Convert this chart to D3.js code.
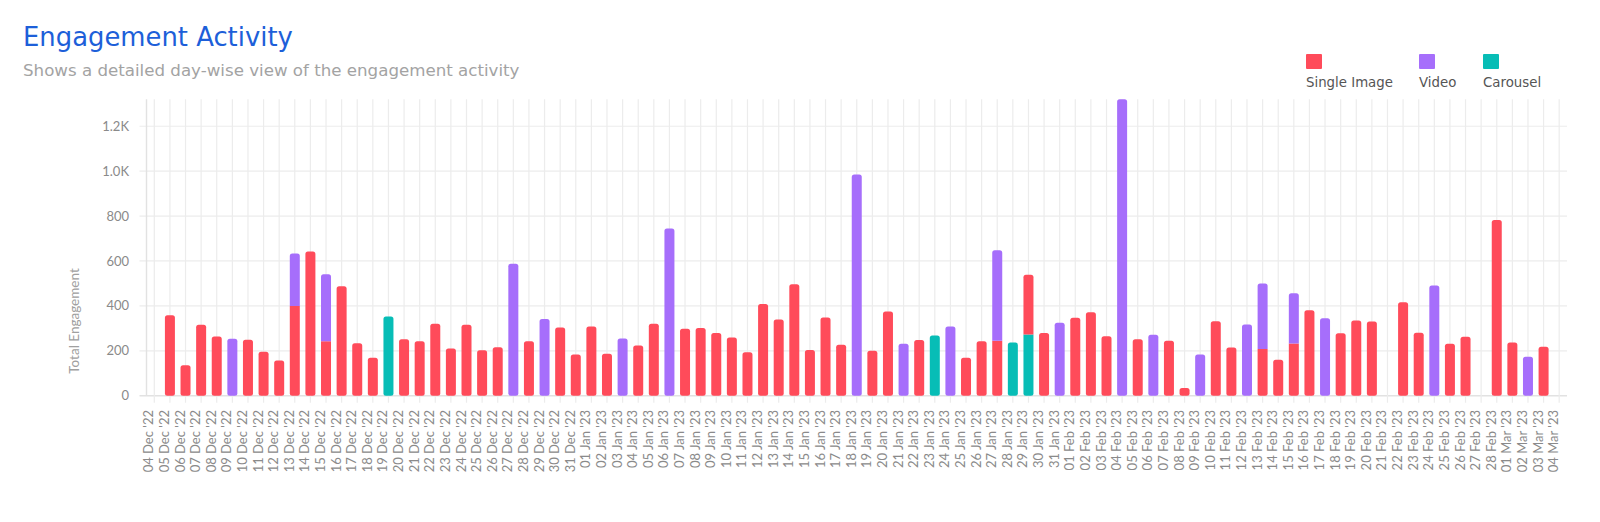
<!DOCTYPE html>
<html><head><meta charset="utf-8">
<script src="https://cdn.jsdelivr.net/npm/d3@7"></script>
<style>
html,body{margin:0;padding:0;background:#fff;}
svg{display:block;font-family:Lato,"Open Sans",sans-serif;}
</style></head>
<body><svg id="chart" width="1600" height="522"></svg>
<script>
const dates = ["04 Dec '22","05 Dec '22","06 Dec '22","07 Dec '22","08 Dec '22","09 Dec '22","10 Dec '22","11 Dec '22","12 Dec '22","13 Dec '22","14 Dec '22","15 Dec '22","16 Dec '22","17 Dec '22","18 Dec '22","19 Dec '22","20 Dec '22","21 Dec '22","22 Dec '22","23 Dec '22","24 Dec '22","25 Dec '22","26 Dec '22","27 Dec '22","28 Dec '22","29 Dec '22","30 Dec '22","31 Dec '22",
"01 Jan '23","02 Jan '23","03 Jan '23","04 Jan '23","05 Jan '23","06 Jan '23","07 Jan '23","08 Jan '23","09 Jan '23","10 Jan '23","11 Jan '23","12 Jan '23","13 Jan '23","14 Jan '23","15 Jan '23","16 Jan '23","17 Jan '23","18 Jan '23","19 Jan '23","20 Jan '23","21 Jan '23","22 Jan '23","23 Jan '23","24 Jan '23","25 Jan '23","26 Jan '23","27 Jan '23","28 Jan '23","29 Jan '23","30 Jan '23","31 Jan '23",
"01 Feb '23","02 Feb '23","03 Feb '23","04 Feb '23","05 Feb '23","06 Feb '23","07 Feb '23","08 Feb '23","09 Feb '23","10 Feb '23","11 Feb '23","12 Feb '23","13 Feb '23","14 Feb '23","15 Feb '23","16 Feb '23","17 Feb '23","18 Feb '23","19 Feb '23","20 Feb '23","21 Feb '23","22 Feb '23","23 Feb '23","24 Feb '23","25 Feb '23","26 Feb '23","27 Feb '23","28 Feb '23",
"01 Mar '23","02 Mar '23","03 Mar '23","04 Mar '23"];

const singleImage = [0,358,136,316,264,0,249,196,157,399,642,243,487,234,169,0,251,243,320,210,316,202,216,0,242,0,304,184,
308,187,0,224,320,0,298,301,279,259,193,408,339,496,203,348,227,0,200,375,0,248,0,0,169,243,245,0,266,279,0,
347,372,265,0,251,0,245,34,0,332,215,0,208,160,233,381,0,278,335,330,0,416,280,0,231,262,0,782,
237,0,218,0];

const video = [0,0,0,0,0,254,0,0,0,234,0,298,0,0,0,0,0,0,0,0,0,0,0,588,0,342,0,0,
0,0,255,0,0,745,0,0,0,0,0,0,0,0,0,0,0,985,0,0,231,0,0,308,0,0,403,0,0,0,325,
0,0,0,1320,0,271,0,0,184,0,0,317,292,0,223,0,345,0,0,0,0,0,0,491,0,0,0,0,
0,173,0,0];

const carousel = [0,0,0,0,0,0,0,0,0,0,0,0,0,0,0,353,0,0,0,0,0,0,0,0,0,0,0,0,
0,0,0,0,0,0,0,0,0,0,0,0,0,0,0,0,0,0,0,0,0,0,268,0,0,0,0,237,273,0,0,
0,0,0,0,0,0,0,0,0,0,0,0,0,0,0,0,0,0,0,0,0,0,0,0,0,0,0,0,
0,0,0,0];

const yTicks = [0,200,400,600,800,1000,1200];
const yTickLabels = ["0","200","400","600","800","1.0K","1.2K"];
const seriesNames = ["Single Image","Video","Carousel"];
const seriesColors = ["#FF4B5A","#A66EFB","#07BDB6"];
// stacking order bottom -> top
const stackOrder = ["Carousel","Single Image","Video"];

const svg = d3.select("#chart");
const L = 146.5, R = 1567, T = 99.3, B = 395.7;

const x = d3.scalePoint().domain(dates).range([L, R]).padding(0.5);
const yMax = d3.max(dates.map((d,i)=>singleImage[i]+video[i]+carousel[i]));
const y = d3.scaleLinear().domain([0, yMax]).range([B, T]);

const grid = svg.append("g");
grid.selectAll("line.h").data(yTicks).join("line")
  .attr("x1", L-7).attr("x2", R).attr("y1", d=>y(d)).attr("y2", d=>y(d))
  .attr("stroke", d=> d===0 ? "#e2e2e2" : "#ececec").attr("stroke-width", d=> d===0?1.6:1.2);
grid.selectAll("line.v").data(dates).join("line")
  .attr("x1", d=>x(d)).attr("x2", d=>x(d)).attr("y1", T).attr("y2", B+7)
  .attr("stroke", "#ececec").attr("stroke-width", 1.2);
grid.append("line").attr("x1", L).attr("x2", L).attr("y1", T).attr("y2", B)
  .attr("stroke", "#e2e2e2").attr("stroke-width", 1.4);

svg.append("g").selectAll("text").data(yTicks).join("text")
  .attr("x", 129).attr("y", d=>y(d)).attr("dy","0.35em").attr("text-anchor","end")
  .attr("font-size", 13).attr("fill", "#8a8a8a").text((d,i)=>yTickLabels[i]);

svg.append("text").attr("transform","translate(79,321) rotate(-90)")
  .attr("text-anchor","middle").attr("font-size",13.5).attr("fill","#a0a0a0").text("Total Engagement");

svg.append("g").selectAll("text").data(dates).join("text")
  .attr("transform", d=>`translate(${x(d)-1},410) rotate(-90)`)
  .attr("text-anchor","end").attr("font-size",13).attr("fill","#8a8a8a").text(d=>d);

const seriesData = {"Single Image": singleImage, "Video": video, "Carousel": carousel};
const colorOf = n => seriesColors[seriesNames.indexOf(n)];
const bw = 10, r = 2.5;
function segPath(cx, yb, yt, roundTop, roundBot){
  const x0 = cx - bw/2, x1 = cx + bw/2;
  const rt = roundTop ? Math.min(r, (yb-yt)/2) : 0;
  const rb = roundBot ? Math.min(r, (yb-yt)/2) : 0;
  return `M${x0},${yt+rt}` + (rt?`Q${x0},${yt} ${x0+rt},${yt}`:"") +
    `L${x1-rt},${yt}` + (rt?`Q${x1},${yt} ${x1},${yt+rt}`:"") +
    `L${x1},${yb-rb}` + (rb?`Q${x1},${yb} ${x1-rb},${yb}`:"") +
    `L${x0+rb},${yb}` + (rb?`Q${x0},${yb} ${x0},${yb-rb}`:"") + "Z";
}
const segs = [];
dates.forEach((d,i)=>{
  const parts = stackOrder.map(n=>({name:n, v:seriesData[n][i]})).filter(p=>p.v>0);
  let acc = 0;
  parts.forEach((p,k)=>{
    segs.push({date:d, name:p.name, y0:acc, y1:acc+p.v, top:k===parts.length-1, bot:k===0});
    acc += p.v;
  });
});
svg.append("g").selectAll("path").data(segs).join("path")
  .attr("d", s=>segPath(x(s.date), y(s.y0), y(s.y1), s.top, s.bot))
  .attr("fill", s=>colorOf(s.name));

// fit a text element to a target width by adjusting font-size
function fitWidth(sel, target){
  const n = sel.node(); const fs = parseFloat(sel.attr("font-size"));
  const w = n.getComputedTextLength();
  if (w > 0) sel.attr("font-size", (fs*target/w).toFixed(2));
}
const headFont = "'DejaVu Sans', Verdana, sans-serif";
const title = svg.append("text").attr("x",23).attr("y",46).attr("font-size",24)
  .attr("font-family",headFont).attr("fill","#1D5FD9").text("Engagement Activity");
fitWidth(title, 270);
const sub = svg.append("text").attr("x",23).attr("y",76).attr("font-size",16)
  .attr("font-family",headFont).attr("fill","#a3a3a3").text("Shows a detailed day-wise view of the engagement activity");
fitWidth(sub, 497);

const legendX = [1306, 1419, 1483];
const legendW = [87, 39, 60];
const lg = svg.append("g").selectAll("g").data(seriesNames).join("g")
  .attr("transform",(d,i)=>`translate(${legendX[i]},0)`);
lg.append("rect").attr("x",0).attr("y",54).attr("width",16).attr("height",15).attr("rx",1)
  .attr("fill",(d,i)=>seriesColors[i]);
const lt = lg.append("text").attr("x",0).attr("y",87).attr("font-size",13)
  .attr("font-family",headFont).attr("fill","#555").text(d=>d);
fitWidth(d3.select(lt.nodes()[0]), legendW[0]);
const lfs = d3.select(lt.nodes()[0]).attr("font-size");
lt.attr("font-size", lfs);
</script></body></html>
